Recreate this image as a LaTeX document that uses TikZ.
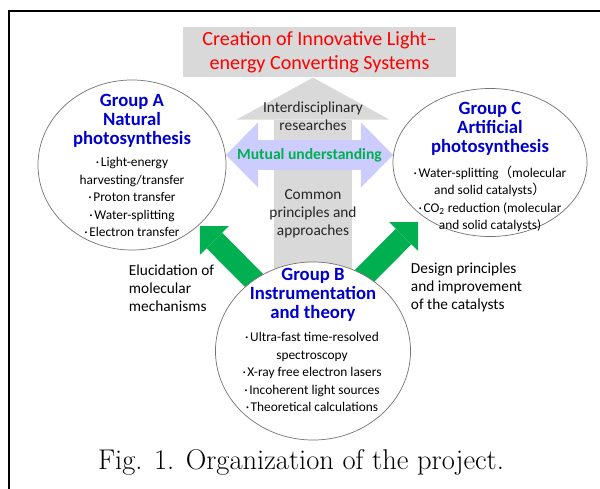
\documentclass[tikz,border=0pt]{standalone}
\usepackage{fontspec}
\setsansfont{Carlito}
\newfontfamily\cjk{Noto Sans CJK JP}
\usetikzlibrary{arrows.meta,shapes.geometric}

\definecolor{boxgray}{HTML}{D9D9D9}
\definecolor{lavender}{HTML}{CCCCFF}
\definecolor{leafgreen}{HTML}{00B050}
\definecolor{titlered}{HTML}{FF0000}
\definecolor{groupblue}{HTML}{0000CC}

\newcommand\itm{·\hspace{0.12em}}

\tikzset{
  group/.style={ellipse, draw=black!55, line width=0.5pt, fill=white, inner sep=0pt},
  grouptitle/.style={align=center, text=groupblue, font=\sffamily\bfseries\fontsize{13.3}{13.5}\selectfont},
  groupitems/.style={align=center, font=\sffamily\fontsize{9.5}{12.4}\selectfont},
  note/.style={align=left, font=\sffamily\fontsize{10.9}{12.8}\selectfont},
  flow/.style={leafgreen, line width=5.5mm, -{Triangle[width=10.25mm, length=5.1mm, line width=0pt]}},
  uparrow/.style={boxgray, line width=19.5mm, -{Triangle[width=38.25mm, length=10.5mm, line width=0pt]}},
  mutual/.style={lavender, line width=7.5mm,
    {Triangle[width=16.25mm, length=8mm, line width=0pt]}-{Triangle[width=16.25mm, length=8mm, line width=0pt]}},
}

\begin{document}
\begin{tikzpicture}[x=0.025cm, y=-0.025cm]
\useasboundingbox (0,0) rectangle (600,488);
\begin{scope}
\clip (0,0) rectangle (600,488);
\draw [line width=0.45mm] (9,11) rectangle (610,500);
\end{scope}

\node [fill=boxgray, minimum width=68.25mm, minimum height=12.5mm, align=center,
  text=titlered, font=\sffamily\fontsize{14.3}{17}\selectfont] (goal) at (319.5,52)
  {Creation of Innovative Light--\\energy Converting Systems};

\coordinate (cA) at (132,165);
\coordinate (cB) at (313,351);
\coordinate (cC) at (490,162.5);
\coordinate (tipA) at (200,226);
\coordinate (tipC) at (418,222);
\coordinate (mL) at (226,155);
\coordinate (mR) at (393,155);

\draw [uparrow] (cB) -- (cB |- goal.south);
\node [align=center, text=black!85, font=\sffamily\fontsize{10.9}{12.8}\selectfont] (inter) at (313,116)
  {Interdisciplinary\\researches};
\node [align=center, text=black!85, font=\sffamily\fontsize{10.9}{12.8}\selectfont] (common) at (313,214)
  {Common\\principles and\\approaches};

\draw [mutual] (mL) -- node [text=leafgreen, font=\sffamily\bfseries\fontsize{11.1}{13}\selectfont] (mutual) {Mutual understanding} (mR);

\draw [flow] (cB) ++(11,0) -- (tipA);
\draw [flow] (cB) ++(-23,0) -- (tipC);

\node [group, minimum width=47mm, minimum height=42.5mm] (gA) at (cA) {};
\node [group, minimum width=48.5mm, minimum height=37mm] (gC) at (cC) {};
\node [group, minimum width=48.75mm, minimum height=44.5mm] (gB) at (cB) {};

\node [grouptitle] (titleA) at (132,121) {Group A\\Natural\\photosynthesis};
\node [groupitems] (itemsA) at (132,197)
  {\itm Light-energy\\harvesting/transfer\\\itm Proton transfer\\\itm Water-splitting\\\itm Electron transfer};

\node [grouptitle] (titleC) at (490,129) {Group C\\Artificial\\photosynthesis};
\node [groupitems] (itemsC) at (490,199)
  {\itm Water-splitting{\cjk（}molecular\\and solid catalysts{\cjk）}\\\itm CO\textsubscript{2} reduction (molecular\\and solid catalysts)};

\node [grouptitle] (titleB) at (313,295) {Group B\\Instrumentation\\and theory};
\node [groupitems] (itemsB) at (312,372)
  {\itm Ultra-fast time-resolved\\spectroscopy\\\itm X-ray free electron lasers\\\itm Incoherent light sources\\\itm Theoretical calculations};

\node [note, anchor=west] (elucid) at (124,288) {Elucidation of\\molecular\\mechanisms};
\node [note, anchor=west] (design) at (406,287) {Design principles\\and improvement\\of the catalysts};

\node [font=\fontsize{20.3}{24}\selectfont] (caption) at (301,462) {Fig. 1. Organization of the project.};
\end{tikzpicture}
\end{document}
